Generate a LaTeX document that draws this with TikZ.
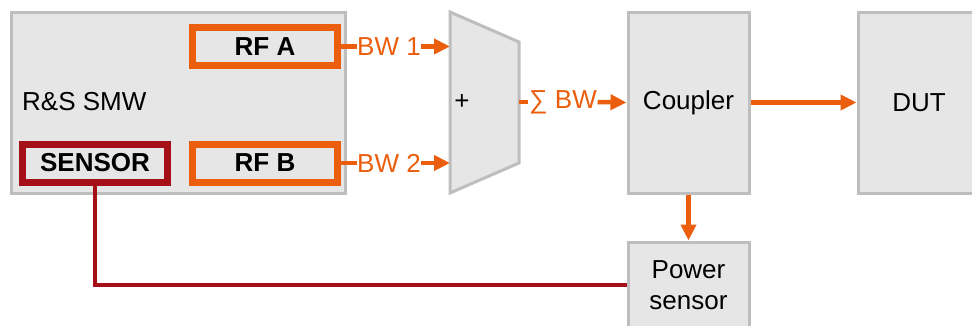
\documentclass[tikz,border=0pt]{standalone}
\usepackage{fontspec}
\setmainfont{Liberation Sans}
\usetikzlibrary{arrows.meta}
\definecolor{rsorange}{RGB}{234,94,14}
\definecolor{rsred}{RGB}{165,16,24}
\definecolor{boxfill}{RGB}{230,230,230}
\definecolor{boxline}{RGB}{190,190,190}
\begin{document}
\begin{tikzpicture}[x=1pt,y=-1pt,
  txt/.style={font=\fontsize{26}{31}\selectfont},
  graybox/.style={draw=boxline,fill=boxfill,line width=3pt,inner sep=0pt,txt},
  portbox/.style={draw=rsorange,line width=7pt,inner sep=0pt,minimum width=145pt,minimum height=38pt,font=\fontsize{26}{31}\selectfont\bfseries},
  sensbox/.style={draw=rsred,line width=7pt,inner sep=0pt,minimum width=145pt,minimum height=38pt,font=\fontsize{26}{31}\selectfont\bfseries},
  sig/.style={draw=rsorange,line width=4.5pt},
  sigarrow/.style={sig,-{Triangle[length=16pt,width=15pt]}},
  bwlabel/.style={txt,text=rsorange,inner sep=0.5pt}
]
\useasboundingbox (0,0) rectangle (972,325);
\begin{scope}
\clip (0,0) rectangle (972,325);
% R&S SMW
\node[graybox,minimum width=334pt,minimum height=181pt] (smw) at (178,102.5) {};
\node[txt,anchor=west,inner sep=0pt] (smwlabel) at (22,102) {R\&S SMW};
\node[portbox] (rfa) at (265,46.5) {RF A};
\node[portbox] (rfb) at (265,163) {RF B};
\node[sensbox] (sensor) at (95,163) {SENSOR};
% combiner
\coordinate (m1) at (450,12);
\coordinate (m2) at (519,42);
\coordinate (m3) at (519,163);
\coordinate (m4) at (450,193);
\draw[draw=boxline,fill=boxfill,line width=3pt,line join=miter] (m1) -- (m2) -- (m3) -- (m4) -- cycle;
\coordinate (in1) at (450,46.5);
\coordinate (in2) at (450,163);
\coordinate (mout) at (519,102);
\node[txt,inner sep=0pt] (plus) at (462,102) {+};
% other boxes
\node[graybox,minimum width=121pt,minimum height=181pt] (coupler) at (688.5,102.5) {Coupler};
\node[graybox,minimum width=122pt,minimum height=181pt] (dut) at (919,102.5) {DUT};
\node[graybox,minimum width=121pt,minimum height=86pt,align=center] (power) at (688.5,285) {Power\\sensor};
% signal connectors
\node[bwlabel] (bw1) at (389,46.5) {BW 1};
\node[bwlabel] (bw2) at (389,163) {BW 2};
\node[bwlabel] (sum) at (563,102) {∑ BW};
\draw[sig] (rfa.east) -- (bw1.west);
\draw[sigarrow] (bw1.east) -- (in1);
\draw[sig] (rfb.east) -- (bw2.west);
\draw[sigarrow] (bw2.east) -- (in2);
\draw[sig] (mout) -- (sum.west);
\draw[sigarrow] (sum.east) -- (coupler.west);
\draw[sigarrow] (coupler.east) -- (dut.west);
\draw[sigarrow] (coupler.south) -- (power.north);
% sensor cable
\draw[draw=rsred,line width=4.5pt] (sensor.south) |- (power.west);
\end{scope}
\end{tikzpicture}
\end{document}
